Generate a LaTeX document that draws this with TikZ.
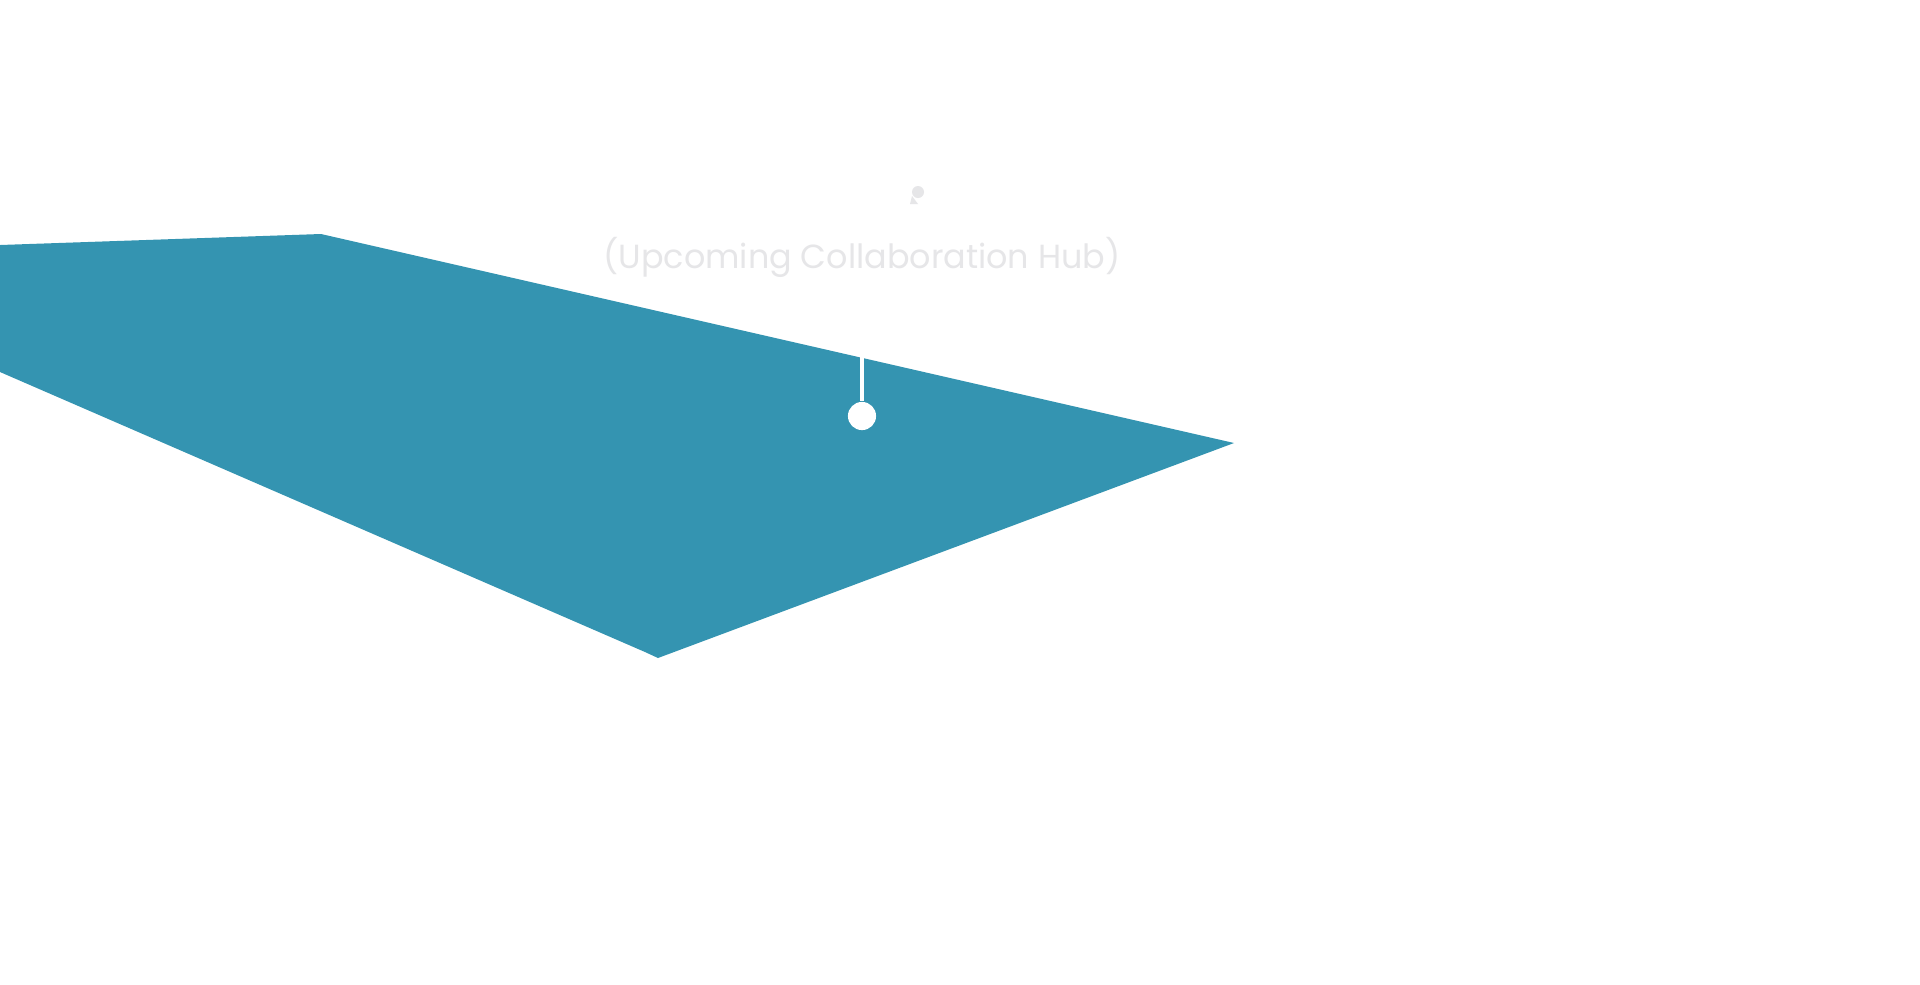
\documentclass[tikz,border=0pt]{standalone}
\usepackage{fontspec}
\setmainfont{Poppins}
\definecolor{teal}{HTML}{3494B1}
\definecolor{lg}{HTML}{E6E6E8}
\begin{document}
\begin{tikzpicture}[x=0.01cm,y=-0.01cm]
\useasboundingbox[fill=white] (0,0) rectangle (1920,984);
\fill[teal] (0,245) -- (321,234) -- (1234,443) -- (658,658) -- (645,652) -- (0,372) -- cycle;
\coordinate (top) at (862,357);
\node[circle,fill=white,inner sep=0pt,minimum size=8pt] (dot) at (862,416) {};
\draw[white,line width=1pt] (top) -- (dot.north);
\fill[lg] (918,192) circle (6) ;
\fill[lg] (912,196) -- (910,204) -- (918,204) -- cycle;
\node[text=lg,font=\fontsize{9.5pt}{11pt}\selectfont] (lbl) at (862,257) {(Upcoming Collaboration Hub)};
\end{tikzpicture}
\end{document}
